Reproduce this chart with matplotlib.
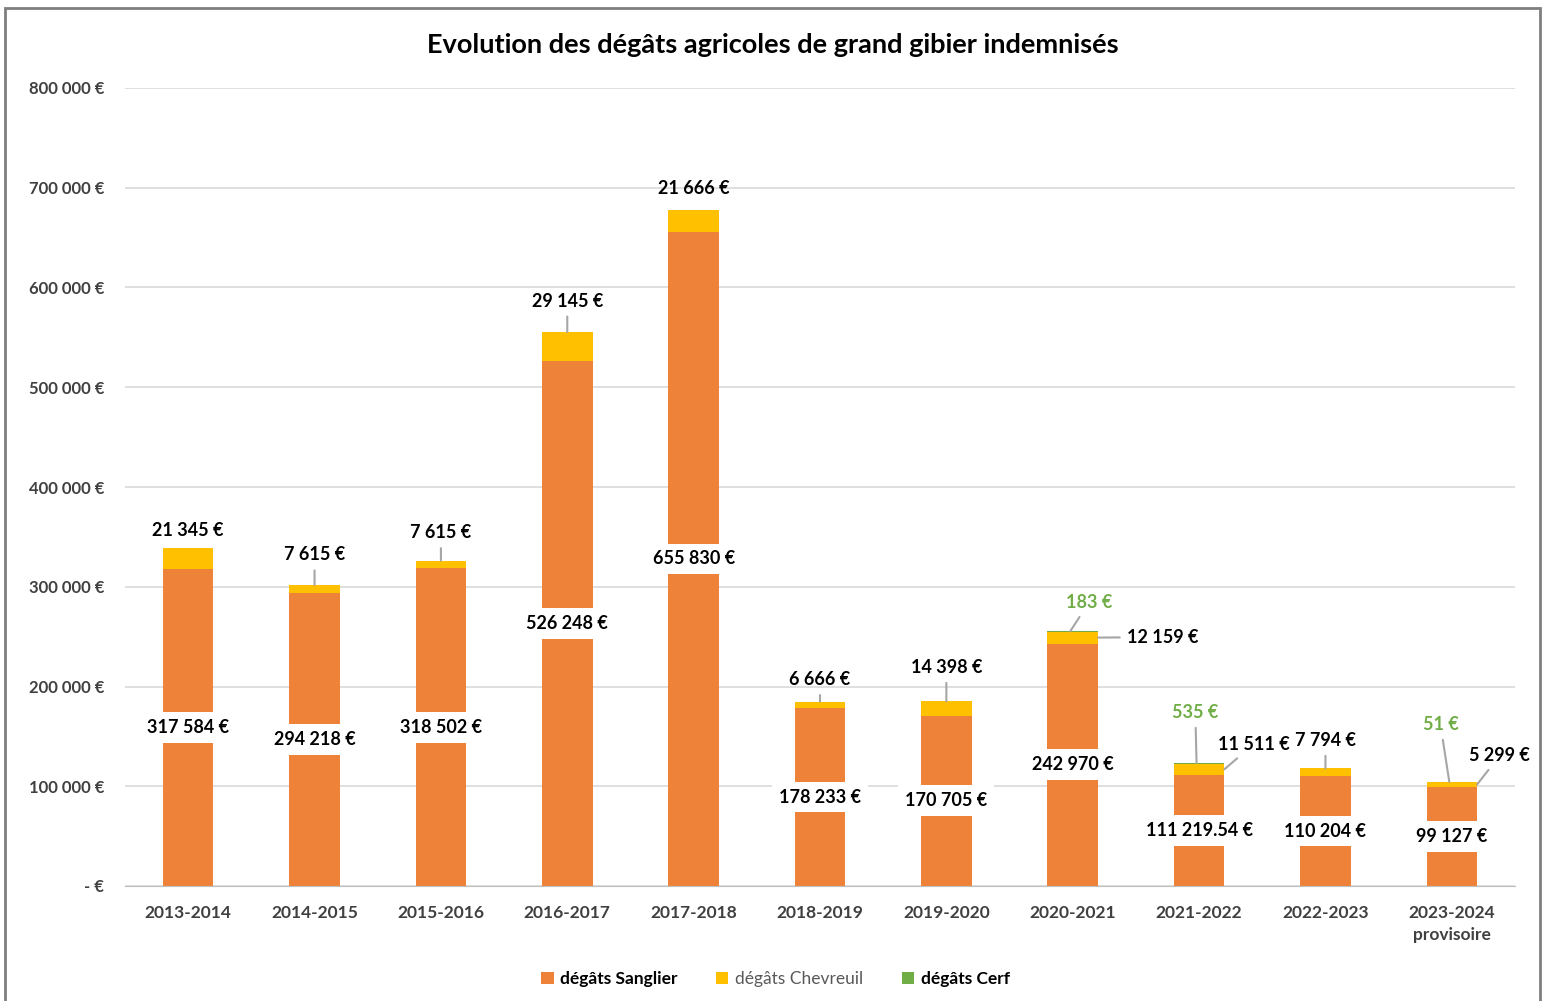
import matplotlib
matplotlib.use("Agg")
import matplotlib.pyplot as plt
import numpy as np
from matplotlib.patches import Rectangle

plt.rcParams["font.family"] = ["Lato", "DejaVu Sans"]

seasons = ["2013-2014", "2014-2015", "2015-2016", "2016-2017", "2017-2018", "2018-2019",
           "2019-2020", "2020-2021", "2021-2022", "2022-2023", "2023-2024\nprovisoire"]
sanglier = [317584, 294218, 318502, 526248, 655830, 178233, 170705, 242970, 111219.54, 110204, 99127]
chevreuil = [21345, 7615, 7615, 29145, 21666, 6666, 14398, 12159, 11511, 7794, 5299]
cerf = [0, 0, 0, 0, 0, 0, 0, 183, 535, 0, 51]

ORANGE = "#EE8238"
YELLOW = "#FFC000"
GREEN = "#70AD47"
LINE = "#A6A6A6"


def euro(v):
    if v == 0:
        return "- €"
    if float(v).is_integer():
        s = f"{v:,.0f}"
    else:
        s = f"{v:,.2f}"
    return s.replace(",", " ") + " €"


# label layout: (x offset from bar centre, height above stack top, kind of leader line)
chev_layout = {0: (0, 17000, None), 1: (0, 30000, "top"), 2: (0, 28000, "top"),
               3: (0, 31000, "top"), 4: (0, 22000, None), 5: (0, 22000, "top"),
               6: (0, 34000, "top"), 7: (0.71, None, "right"), 8: (0.43, None, "right"),
               9: (0, 28000, "top"), 10: (0.38, None, "right")}
chev_right_y = {7: 249500, 8: 142000, 10: 131000}
cerf_layout = {7: (0.13, 284500), 8: (-0.03, 174000), 10: (-0.09, 162000)}

x = np.arange(len(seasons))
sang = np.array(sanglier)
chev = np.array(chevreuil)
cer = np.array(cerf)

fig = plt.figure(figsize=(15.51, 10.01), dpi=100)
ax = fig.add_axes([125 / 1551, 1 - 886 / 1001, 1390 / 1551, 798 / 1001])

w = 0.4
ax.bar(x, sang, w, color=ORANGE, label="dégâts Sanglier", zorder=2)
ax.bar(x, chev, w, bottom=sang, color=YELLOW, label="dégâts Chevreuil", zorder=2)
ax.bar(x, cer, w, bottom=sang + chev, color=GREEN, label="dégâts Cerf", zorder=2)

ax.set_xlim(-0.5, len(seasons) - 0.5)
ax.set_ylim(0, 800000)
ax.set_yticks(np.arange(0, 800001, 100000))
ax.set_yticklabels([euro(v) for v in np.arange(0, 800001, 100000)],
                   fontsize=12, fontweight="bold", color="#404040")
ax.set_xticks(x)
ax.set_xticklabels(seasons, fontsize=12.5, fontweight="bold", color="#404040",
                   linespacing=1.45)
ax.tick_params(axis="both", length=0)
ax.tick_params(axis="y", pad=15)
ax.tick_params(axis="x", pad=14)
ax.grid(axis="y", color="#D9D9D9", lw=1.2, zorder=0)
for s in ["top", "right", "left"]:
    ax.spines[s].set_visible(False)
ax.spines["bottom"].set_color("#BFBFBF")

# sanglier labels in middle of bar
for i in x:
    ax.text(i, sang[i] / 2, euro(sang[i]), ha="center", va="center", fontsize=13,
            fontweight="bold", color="black", zorder=4,
            bbox=dict(fc="white", ec="none", pad=5))

# chevreuil labels
for i in x:
    top = sang[i] + chev[i] + cer[i]
    dx, dy, side = chev_layout[i]
    if side == "right":
        ax.annotate(euro(chev[i]), xy=(i + w / 2, sang[i] + chev[i] / 2),
                    xytext=(i + dx, chev_right_y[i]), ha="center", va="center",
                    fontsize=13, fontweight="bold", zorder=4,
                    arrowprops=dict(arrowstyle="-", color=LINE, lw=1.5, shrinkA=3, shrinkB=0))
    elif side == "top":
        ax.annotate(euro(chev[i]), xy=(i, top), xytext=(i + dx, top + dy),
                    ha="center", va="center", fontsize=13, fontweight="bold", zorder=4,
                    arrowprops=dict(arrowstyle="-", color=LINE, lw=1.5, shrinkA=3, shrinkB=0))
    else:
        ax.text(i + dx, top + dy, euro(chev[i]), ha="center", va="center",
                fontsize=13, fontweight="bold", zorder=4)

# cerf labels
for i, (dx, ty) in cerf_layout.items():
    top = sang[i] + chev[i] + cer[i]
    ax.annotate(euro(cer[i]), xy=(i - 0.02, top), xytext=(i + dx, ty),
                ha="center", va="center", fontsize=13, fontweight="bold", color=GREEN,
                zorder=4,
                arrowprops=dict(arrowstyle="-", color=LINE, lw=1.5, shrinkA=3, shrinkB=0))

fig.text(0.498, 0.955, "Evolution des dégâts agricoles de grand gibier indemnisés",
         ha="center", va="center", fontsize=19.5, fontweight="bold", color="black")

leg = fig.legend(loc="center", bbox_to_anchor=(0.5, 0.022), ncol=3, frameon=False,
                 fontsize=12.5, handlelength=0.7, handleheight=0.7, handletextpad=0.4,
                 columnspacing=2.2)
for t, c, wgt in zip(leg.get_texts(), ["black", "#595959", "black"], ["bold", "normal", "bold"]):
    t.set_color(c)
    t.set_fontweight(wgt)

fig.patches.append(Rectangle((5 / 1551, -0.01), 1535 / 1551, 1 - 8 / 1001 + 0.01,
                             transform=fig.transFigure, fill=False, ec="#7F7F7F", lw=2))

fig.savefig("out.png", dpi=100)
